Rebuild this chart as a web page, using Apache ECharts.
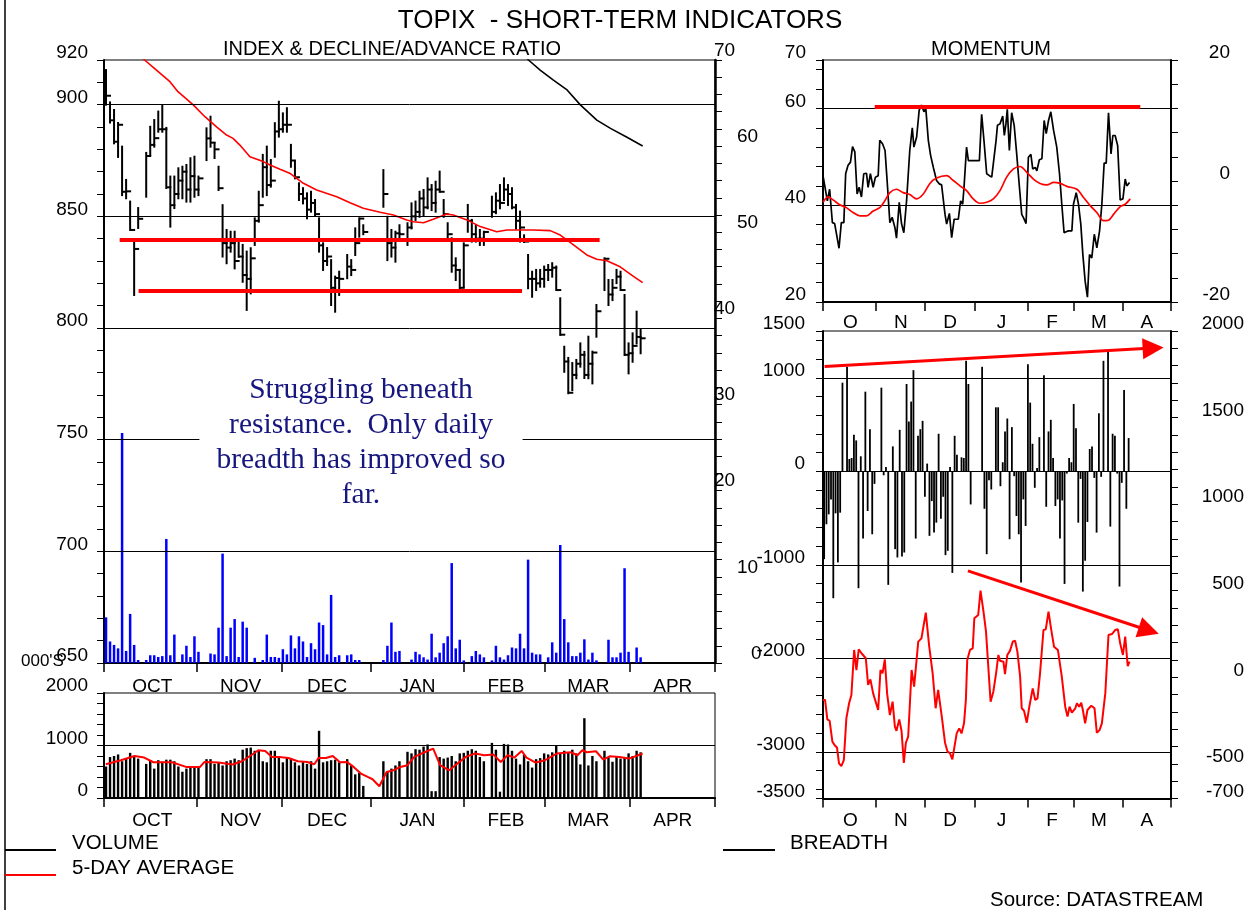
<!DOCTYPE html>
<html><head><meta charset="utf-8">
<script src="https://cdn.jsdelivr.net/npm/echarts@6/dist/echarts.min.js"></script>
<style>html,body{margin:0;padding:0;background:#fff}#c{width:1256px;height:910px}</style>
</head><body><div id="c"></div>
<script>
// x axis = weekday index counted from 1 Oct 2002 (weekends removed)
const monthEdges = [0, 23, 44.3, 66.4, 89.5, 109.6, 130.9, 152];
const monthMids = [12, 34, 55.5, 78, 100, 120.5, 141.5];
const monthNames = ['OCT', 'NOV', 'DEC', 'JAN', 'FEB', 'MAR', 'APR'];
const monthInitials = ['O', 'N', 'D', 'J', 'F', 'M', 'A'];

const tradeDays = [0,1,2,3,4,5,6,7,8, 10,11,12,13,14,15,16,17,18,19,20,21,22,23,
  25,26,27,28,29,30,31,32,33,34,35,36,37,38,39,40,41,42,43,
  44,45,46,47,48,49,50,51,52,53,54,55,56,57,58, 60,61,62,63,64,
  69,70,71,72,73, 75,76,77,78,79,80,81,82,83,84,85,86,87,88,
  89,90,91,92,93,94, 96,97,98,99,100,101,102,103,104,105,106,107,108,
  109,110,111,112,113,114,115,116,117,118,119,120,121,122, 124,125,126,127,128,129,130,131,132,133];

const priceHigh = [915.5,901,897.6,891.8,881.2,866.3,856.6,838.1,853.7,
  878.4,890.1,893.1,896.9,899.8,889.6,867.8,867.8,871.5,872.2,873,876,876.7,867.8,
  889.4,894.6,882.8,872.2,855,843.9,843.1,843.1,838.7,837.2,834.2,835.7,849.1,861,877.5,881.2,875.2,891.7,901.3,
  896.1,898.4,882,874.5,864.8,862.6,860.3,861,857.3,849.1,837.9,835.8,830.4,823,825.2,
  832.7,830.4,844.6,849.1,846,
  870.7,849.8,843.9,843.1,846,
  846.9,855.8,856.6,861,861.8,867,864,865.5,870,857.3,846.9,840.2,831.2,826,
  837.9,855.1,848.4,846.1,843.9,843.1,
  858.8,860.3,864,867,864,862.6,855.1,852.1,841.5,832.7,825.2,826,826,
  827.5,828.2,829,827.5,813.3,791.6,786.6,784.3,785.7,793.1,789.3,796.1,789.4,810.3,
  831.2,821.5,821.5,826,825.2,814.8,793.1,797.6,807.3,799.1];
const priceLow = [900,892,882.7,876.6,859.5,858.1,843.9,814.8,844.8,
  858.8,877.5,881.2,887.9,887.9,862.7,845.4,853.7,858.1,858.1,856.6,856.6,858.8,859.5,
  875.2,881.2,876.1,861.8,832,829,834.2,826.7,831.9,820.7,808.1,815.5,837.2,847.6,858.8,859.5,863.3,876.7,885.7,
  887.9,887.9,872.2,867,857.3,855.8,849.1,852.1,850.6,834.2,826,828.2,810.3,807.3,814.8,
  822.3,823.7,832.7,840.9,842,
  854.3,830.4,832,829.7,839.4,
  837.2,844.6,848.4,849.8,850.6,853.6,852.8,852.1,861,849.8,840.2,825.2,821.5,817,
  818.5,843.1,838.7,838.7,837.2,837.2,
  849.8,851.4,853.6,857.3,855.1,853.6,844.6,838.7,838.5,817.8,814,817,818.5,
  818.5,821.5,823,817,796.9,780.4,770.8,772.2,777.5,782.7,777.6,777.5,775.2,796.1,
  817,810.3,812.5,820.1,817,787.9,779.7,784.9,793.1,788.7];
const priceClose = [904,893,883.4,891,861,861.2,843.9,835.4,848.9,
  877,882,885,889,889,863,855,860,866,870,862,868,862,867,
  884.9,883,880,862.6,838,836,838,830,832,823.7,822,831.2,848,855,872,864,866,888,889,
  891,891,875,867.5,860,858,853,856,851,837,830,832,818,822.4,822,
  827.5,826,838,849,843,
  860,838,836,842.4,842,
  845,850,852,858,854,862,856,862,861,851,842,828,826,818,
  837,848,842,840,840,843,
  852,857,856,862,860,854,848,845,838.7,822,822,820,822,
  826,826,827,817,797,785,771,779,784,788,779,784,789,807.5,
  831,815,818,823,817,788,788.7,792,796,795.4];

const declineAdvance = [5.3,2.5,2.1,1.7,26.7,1.4,5.7,2.1,0.35,
  0.35,0.9,0.9,0.7,0.8,14.4,0.9,3.3,0,1.0,2.0,0.7,3.1,1.3,
  0,1.1,1.0,4.1,12.7,0.8,4.1,5.1,0.7,4.8,4.1,0,0.6,0,0.35,3.3,0.7,0.7,0.6,
  1.6,1.0,3.2,1.7,3.1,2.5,0.7,2.3,1.6,4.7,4.4,1.0,7.9,0.7,0.9,
  0.9,1.0,0.35,0.35,0,
  0.35,2.0,4.7,1.3,1.4,
  0,0.4,1.3,1.0,0.66,0.4,3.4,0.66,1.2,2.3,3.1,11.6,1.7,2.7,
  0.3,0,0.8,1.4,1.0,0.66,
  0.3,2.0,0.66,0.4,0.9,1.8,1.7,3.4,1.7,12.0,1.2,1.0,1.0,
  0,0.66,2.4,1.2,13.7,5.1,2.4,0.8,0.8,1.2,2.75,0.4,1.2,0.3,
  0,2.7,0.66,0.66,1.2,11.0,1.3,0,1.8,0.66];

const volume = [600,780,800,830,700,760,860,800,750,
  650,720,560,720,690,730,730,700,600,500,560,600,600,580,
  740,740,650,680,620,700,720,750,720,920,950,960,900,900,700,680,900,900,800,
  680,780,760,680,620,700,650,700,560,1280,680,700,720,730,680,
  740,620,450,480,230,
  700,500,560,620,700,
  880,850,930,920,980,1020,130,130,780,750,770,800,700,850,
  860,900,930,900,780,700,
  1050,920,120,1030,1020,900,750,640,820,700,580,740,760,
  850,830,870,990,850,900,870,920,850,640,1520,620,800,700,
  900,780,690,780,750,760,850,800,900,870];

const breadth = [-940,-567,-461,-301,-1358,-450,-975,-443,947,
  1117,131,142,390,330,-1251,160,-720,851,-425,450,-674,-135,0,
  894,-43,46,-1215,0,266,-833,-922,443,-911,-869,933,532,745,1081,-720,379,450,539,
  -273,82,-691,-319,-656,-550,401,-507,-273,-897,-851,46,-1087,379,177,
  149,142,1181,933,-355,
  1117,-401,-887,-96,-195,
  684,684,-160,96,426,564,-727,472,-53,-479,-674,-1191,-301,-585,
  1145,734,294,-177,35,365,
  1028,-380,426,550,142,-372,-301,-720,-312,-1205,-25,142,96,
  720,461,-550,-82,-1287,-957,-543,238,266,-71,-656,620,-60,1181,
  1277,-592,401,379,-25,-1233,-124,869,-401,355];

// smooth lines: [weekday position, value]
const priceAvg = [[7.5,924],[10.1,920],[13.05,915.5],[16.4,910.3],[18.4,905.8],[22.2,899.9],[25.1,894.6],[28.0,890.1],[30.5,886.4],[32.1,884.9],[33.8,881.9],[36.3,876.7],[39.6,874.5],[41.3,873.0],[43.8,871.1],[46.2,869.3],[49.6,864.8],[52.9,861.8],[57.9,858.8],[61.2,856.1],[64.5,853.6],[68.7,851.8],[72.0,850.6],[75.3,848.4],[77.0,847.6],[79.5,847.1],[81.9,848.7],[85.3,851.0],[86.9,850.6],[90.3,848.4],[93.6,845.4],[97.7,843.1],[100.2,843.9],[106.8,843.9],[111.0,843.6],[113.5,841.6],[116.8,837.2],[120.1,832.7],[122.6,830.8],[125.1,830.1],[128.4,827.4],[131.8,823.0],[134.0,820.3]];
const priceLongAvg = [[102,927],[105.6,920],[108.5,915.5],[111.8,911.0],[115.2,906.6],[118.5,899.9],[122.6,893.1],[126.0,889.4],[130.1,885.4],[134.0,881.5]];
const volumeAvg = [[0.45,643],[4.2,719],[7.6,801],[10,770],[12.3,681],[16.9,681],[20.4,592],[23.9,592],[25,687],[28.5,675],[32,637],[34.3,700],[36.6,815],[38.4,910],[40.1,897],[41.8,783],[43.6,783],[45.9,763],[48.2,700],[50.6,687],[52.3,643],[53.4,763],[55.2,763],[56.9,801],[58.7,681],[60.4,687],[62.1,592],[63.9,465],[65.6,401],[66.8,357],[68.5,223],[70.3,496],[72,528],[73.7,592],[75.5,624],[77.2,783],[79,847],[81.9,942],[83.6,624],[85.9,528],[87.1,605],[90,783],[92.3,847],[94.6,815],[96.9,827],[98.7,687],[100.4,815],[102.1,770],[103.9,897],[105.1,770],[107.4,675],[109.7,719],[112.6,847],[116.1,872],[117.8,815],[119,910],[120.1,872],[122.4,891],[124.2,732],[125.9,796],[128.2,783],[130.6,751],[132.9,815],[134,847]];
const momentum = [[0.0,46.1],[1.9,40.9],[2.9,43.3],[4.1,36.4],[5.1,36.2],[7.0,31.1],[8.0,36.4],[9.1,36.4],[9.9,46.5],[10.9,48.2],[12.0,48.9],[12.9,52.1],[13.9,51.0],[14.9,42.3],[15.8,43.7],[16.8,41.7],[17.8,46.5],[19.0,46.6],[19.7,43.7],[20.7,46.5],[21.9,43.7],[22.9,45.8],[24.1,46.1],[24.8,53.4],[26.0,52.7],[27.1,51.3],[28.0,45.1],[29.2,36.4],[30.2,37.5],[31.4,35.4],[32.1,33.2],[33.3,40.6],[34.3,36.2],[35.3,34.3],[36.5,40.9],[37.9,51.3],[39.0,56.0],[39.7,52.0],[40.9,54.1],[42.0,59.6],[43.0,60.7],[44.1,59.3],[44.9,60.0],[46.0,53.4],[47.0,50.3],[48.2,47.8],[49.6,45.1],[50.8,44.4],[51.8,44.2],[53.3,38.1],[54.0,36.1],[55.2,38.3],[56.2,33.3],[57.3,37.1],[59.1,37.1],[60.1,40.9],[61.0,40.2],[61.6,43.7],[62.7,52.0],[63.5,49.2],[67.1,49.2],[68.3,49.2],[69.3,58.8],[70.3,53.4],[71.5,46.5],[72.7,46.1],[73.7,45.8],[75.6,53.4],[76.2,56.5],[77.3,56.8],[78.5,58.4],[79.2,54.4],[79.9,56.8],[80.5,59.8],[81.4,51.3],[82.4,59.1],[83.5,56.5],[84.6,50.6],[85.8,43.7],[86.8,38.1],[87.5,37.5],[88.7,36.2],[89.7,49.9],[90.8,50.5],[91.6,47.5],[92.7,47.8],[93.4,47.1],[94.5,49.4],[95.6,49.6],[96.6,57.5],[97.5,54.8],[98.5,57.5],[99.5,59.3],[100.7,55.5],[102.1,52.0],[103.3,46.5],[104.3,40.2],[105.3,34.3],[106.2,34.5],[107.2,34.7],[108.7,34.7],[109.4,40.2],[110.6,42.6],[111.6,40.2],[112.6,36.1],[113.5,29.8],[114.5,24.3],[115.5,21.0],[116.4,29.8],[117.4,29.1],[118.5,34.0],[119.6,31.2],[120.8,34.7],[121.8,40.2],[122.8,48.7],[123.7,48.7],[124.7,59.1],[125.8,50.6],[126.6,54.4],[127.6,54.4],[128.7,52.3],[129.8,41.1],[131.0,41.3],[132.0,45.4],[132.7,44.0],[133.9,44.7]];
const momentumAvg = [[0.0,40.6],[2.2,41.7],[4.4,41.1],[7.3,40.1],[10.2,39.5],[13.1,38.5],[16.1,37.8],[19.0,37.8],[21.9,38.8],[24.8,39.5],[27.0,40.9],[29.2,42.6],[32.1,43.3],[35.0,42.6],[37.9,42.2],[40.9,41.3],[43.8,42.3],[46.7,44.5],[49.6,45.6],[54.0,46.1],[56.9,45.1],[59.8,44.0],[62.7,43.0],[65.6,41.3],[68.5,40.4],[71.5,40.6],[74.4,41.3],[77.3,43.0],[80.2,45.8],[83.2,47.5],[86.1,48.0],[89.0,46.8],[91.9,45.4],[94.8,44.5],[97.8,44.2],[100.7,44.7],[103.6,44.5],[106.5,43.9],[110.9,43.3],[113.8,41.6],[116.7,39.9],[119.6,38.5],[122.5,36.8],[124.7,36.9],[126.9,38.1],[129.8,39.7],[132.0,40.2],[134.2,41.3]];
const breadthLine = [[0.0,-131],[0.9,-131],[1.9,-243],[2.9,-251],[4.1,-372],[5.1,-392],[6.1,-405],[7.0,-497],[8.0,-513],[9.1,-478],[10.2,-237],[11.4,-150],[12.4,-102],[13.6,158],[14.6,42],[15.6,162],[16.8,139],[18.7,110],[19.7,-44],[20.7,-12],[21.9,-93],[24.1,-189],[25.1,42],[26.0,23],[27.0,104],[28.0,-93],[29.2,-218],[30.4,-141],[31.4,-285],[32.1,-309],[33.3,-243],[34.3,-309],[35.3,-494],[36.2,-378],[37.2,-343],[38.7,42],[39.8,-54],[41.6,206],[43.0,225],[44.9,373],[46.4,177],[47.9,23],[49.2,-179],[50.3,-73],[51.8,-218],[53.3,-378],[54.4,-430],[55.4,-436],[56.5,-474],[58.4,-324],[59.5,-295],[60.5,-324],[61.6,-266],[62.4,-131],[63.0,100],[64.2,158],[65.4,167],[66.1,341],[67.8,360],[68.8,501],[70.0,389],[71.2,264],[72.2,61],[73.2,-141],[74.4,-83],[75.6,23],[76.6,129],[77.3,96],[78.8,90],[79.5,19],[80.5,129],[81.7,154],[82.9,206],[83.9,212],[84.9,148],[86.1,4],[86.8,-179],[87.8,-193],[89.0,-262],[90.0,-179],[90.7,-170],[91.6,-64],[92.7,-131],[93.7,-122],[94.8,23],[96.3,273],[97.3,277],[98.5,379],[99.6,283],[100.9,177],[102.6,158],[104.3,4],[105.8,-170],[106.8,-227],[107.7,-170],[108.7,-204],[110.2,-179],[110.9,-150],[111.9,-170],[112.8,-147],[113.5,-189],[114.5,-266],[115.5,-189],[117.2,-164],[118.6,-179],[119.6,-320],[120.8,-305],[121.8,-266],[123.3,-93],[124.7,244],[126.2,250],[127.6,273],[128.8,277],[129.8,196],[131.0,129],[132.0,235],[133.1,65],[133.9,90]];

// annotation lines (data space)
const resistanceIndex = [[3.9, 123.3, 839.7], [8.6, 104.0, 816.6]];
const resistanceMomentum = [22.6, 138.6, 60.25];
const breadthArrows = [[[0.7, 1120], [144.2, 1317]], [[63.3, -1066], [142.3, -1703]]];

const FONT = '"Liberation Sans", Arial, sans-serif';
const F = (s) => s + 'px "Liberation Sans", Arial, sans-serif';
function range(a, b, s) { const r = []; for (let v = a; v <= b + 1e-9; v += s) r.push(+v.toFixed(4)); return r; }

function xAx(gi, names, margin) {
  return {
    type: 'value', gridIndex: gi, min: 0, max: 152,
    axisLine: { show: true, onZero: false, lineStyle: { color: '#000', width: 2 } },
    axisTick: { show: true, length: 9, customValues: monthEdges, lineStyle: { color: '#000', width: 1.5 } },
    axisLabel: { show: !!names, customValues: monthMids, margin: margin, fontSize: 19, fontFamily: FONT, color: '#000',
      formatter: (v) => names ? names[monthMids.indexOf(v)] : '' },
    splitLine: { show: false }
  };
}
function yAx(gi, pos, min, max, ticks, labels, margin, align, lw, extra) {
  const ax = {
    type: 'value', gridIndex: gi, position: pos, min: min, max: max,
    axisLine: { show: true, onZero: false, lineStyle: { color: '#000', width: lw || 2 } },
    axisTick: { show: true, length: 7, customValues: ticks, lineStyle: { color: '#000', width: 1 } },
    axisLabel: { show: true, customValues: labels, margin: margin, align: align, verticalAlign: 'bottom', lineHeight: 14,
      fontSize: 19, fontFamily: FONT, color: '#000', formatter: (v) => String(v) },
    splitLine: { show: false }
  };
  if (extra) Object.assign(ax.axisLabel, extra);
  return ax;
}
const gridLine = (vals) => ({
  silent: true, symbol: ['none', 'none'], animation: false, label: { show: false },
  lineStyle: { color: '#000', width: 1, type: 'solid' },
  data: vals.map(v => ({ yAxis: v }))
});
const rs = (pad) => ({ fontSize: 19, fontFamily: FONT, color: '#000', lineHeight: 14, verticalAlign: 'bottom', padding: [0, 0, 0, pad] });

const chart = echarts.init(document.getElementById('c'), null, { renderer: 'canvas' });
const ohlc = tradeDays.map((d, i) => [d + 0.5, priceHigh[i], priceLow[i], priceClose[i]]);

chart.setOption({
  animation: false,
  backgroundColor: '#fff',
  grid: [
    { left: 104, top: 60, width: 611, height: 603, show: true, borderColor: '#000', borderWidth: 1 },
    { left: 104, top: 693, width: 611, height: 105, show: true, borderColor: '#000', borderWidth: 1 },
    { left: 823, top: 60, width: 348, height: 242, show: true, borderColor: '#000', borderWidth: 1 },
    { left: 823, top: 331, width: 348, height: 467.5, show: true, borderColor: '#000', borderWidth: 1 }
  ],
  xAxis: [ xAx(0, monthNames, 14), xAx(1, monthNames, 13), xAx(2, monthInitials, 11), xAx(3, monthInitials, 13) ],
  yAxis: [
    yAx(0, 'left', 650, 920, range(650, 920, 10), [650, 700, 750, 800, 850, 900, 920], 16, 'right', 2),
    yAx(0, 'right', 0, 70, range(0, 70, 2), range(0, 70, 10), -1, 'left', 2.5, {
      formatter: (v) => (v === 0 ? '{c|0}' : (v === 60 || v === 50 || v === 10) ? '{b|' + v + '}' : '{a|' + v + '}'),
      rich: { a: rs(0), b: rs(23), c: rs(37) } }),
    yAx(1, 'left', 0, 2000, range(0, 2000, 200), [0, 1000, 2000], 16, 'right', 2),
    yAx(2, 'left', 20, 70, range(20, 68, 4).concat([70]), [20, 40, 60, 70], 17, 'right', 2),
    yAx(2, 'right', -20, 20, range(-20, 20, 4), [-20, 0, 20], 59, 'right', 2),
    yAx(3, 'left', -3500, 1500, [-3500].concat(range(-3400, 1400, 200), [1500]), [-3500, -3000, -2000, -1000, 0, 1000, 1500], 18, 'right', 2),
    yAx(3, 'right', -700, 2000, range(-700, 2000, 100), [-700, -500, 0, 500, 1000, 1500, 2000], 73, 'right', 2)
  ],
  series: [
    { type: 'custom', name: 'index', xAxisIndex: 0, yAxisIndex: 0, clip: true, z: 3,
      renderItem: (params, api) => {
        const x = api.value(0);
        const pH = api.coord([x, api.value(1)]), pL = api.coord([x, api.value(2)]), pC = api.coord([x, api.value(3)]);
        return { type: 'group', children: [
          { type: 'line', shape: { x1: pH[0], y1: pH[1] - 1, x2: pL[0], y2: pL[1] + 1 }, style: { stroke: '#000', lineWidth: 2 } },
          { type: 'line', shape: { x1: pC[0], y1: pC[1], x2: pC[0] + 5, y2: pC[1] }, style: { stroke: '#000', lineWidth: 2 } }
        ] };
      },
      encode: { x: 0, y: [1, 2, 3] },
      data: ohlc,
      markLine: gridLine([700, 750, 800, 850, 900])
    },
    { type: 'line', xAxisIndex: 0, yAxisIndex: 0, data: priceAvg, symbol: 'none', clip: true, z: 4,
      lineStyle: { color: '#ff0000', width: 1.6 },
      markLine: { silent: true, symbol: ['none', 'none'], label: { show: false },
        lineStyle: { color: '#ff0000', width: 4, type: 'solid' },
        data: resistanceIndex.map(r => [{ coord: [r[0], r[2]] }, { coord: [r[1], r[2]] }]) } },
    { type: 'line', xAxisIndex: 0, yAxisIndex: 0, data: priceLongAvg, symbol: 'none', clip: true, z: 4,
      lineStyle: { color: '#000', width: 1.6 } },
    { type: 'bar', xAxisIndex: 0, yAxisIndex: 1, barWidth: 2.5, z: 2,
      itemStyle: { color: '#0000ff' },
      data: tradeDays.map((d, i) => [d + 0.5, declineAdvance[i]]) },
    { type: 'bar', xAxisIndex: 1, yAxisIndex: 2, barWidth: 2.4, z: 2,
      itemStyle: { color: '#000' },
      data: tradeDays.map((d, i) => [d + 0.5, volume[i]]),
      markLine: gridLine([1000]) },
    { type: 'line', xAxisIndex: 1, yAxisIndex: 2, data: volumeAvg, symbol: 'none', z: 4,
      lineStyle: { color: '#ff0000', width: 2 } },
    { type: 'line', xAxisIndex: 2, yAxisIndex: 3, data: momentum, symbol: 'none', z: 4,
      lineStyle: { color: '#000', width: 1.7 },
      markLine: gridLine([40, 60]) },
    { type: 'line', xAxisIndex: 2, yAxisIndex: 3, data: momentumAvg, symbol: 'none', z: 5, smooth: 0.3,
      lineStyle: { color: '#ff0000', width: 1.7 },
      markLine: { silent: true, symbol: ['none', 'none'], label: { show: false },
        lineStyle: { color: '#ff0000', width: 4, type: 'solid' },
        data: [[{ coord: [resistanceMomentum[0], resistanceMomentum[2]] }, { coord: [resistanceMomentum[1], resistanceMomentum[2]] }]] } },
    { type: 'bar', xAxisIndex: 3, yAxisIndex: 5, barWidth: 1.8, z: 2,
      itemStyle: { color: '#000' },
      data: tradeDays.map((d, i) => [d + 0.5, breadth[i]]),
      markLine: gridLine([1000, 0, -1000, -2000, -3000]) },
    { type: 'line', xAxisIndex: 3, yAxisIndex: 5, data: [], symbol: 'none', z: 6,
      markLine: { silent: true, symbol: ['none', 'triangle'], symbolSize: 21, label: { show: false },
        lineStyle: { color: '#ff0000', width: 3, type: 'solid' }, itemStyle: { color: '#ff0000' },
        data: breadthArrows.map(a => [{ coord: a[0] }, { coord: a[1] }]) } },
    { type: 'line', xAxisIndex: 3, yAxisIndex: 6, data: breadthLine, symbol: 'none', z: 5,
      lineStyle: { color: '#ff0000', width: 2 } }
  ],
  graphic: [
    { type: 'line', z: 100, shape: { x1: 5, y1: 0, x2: 5, y2: 910 }, style: { stroke: '#000', lineWidth: 1.5 } },
    { type: 'text', x: 620, y: 21, z: 100, style: { text: 'TOPIX  - SHORT-TERM INDICATORS', font: F(26), fill: '#000', align: 'center', verticalAlign: 'middle' } },
    { type: 'text', x: 392, y: 49, z: 100, style: { text: 'INDEX & DECLINE/ADVANCE RATIO', font: F(20), fill: '#000', align: 'center', verticalAlign: 'middle' } },
    { type: 'text', x: 991, y: 49, z: 100, style: { text: 'MOMENTUM', font: F(20), fill: '#000', align: 'center', verticalAlign: 'middle' } },
    { type: 'text', x: 21, y: 661, z: 100, style: { text: "000'S", font: F(17), fill: '#000', align: 'left', verticalAlign: 'middle' } },
    { type: 'text', x: 361, y: 367, z: 100, style: {
        text: 'Struggling beneath\nresistance.  Only daily\nbreadth has improved so\nfar.',
        font: '29.5px "Liberation Serif", "Times New Roman", serif', fill: '#16167e', lineHeight: 35,
        align: 'center', verticalAlign: 'top', backgroundColor: '#fff', padding: [6, 17, 6, 17] } },
    { type: 'line', z: 100, shape: { x1: 5, y1: 850, x2: 56, y2: 850 }, style: { stroke: '#000', lineWidth: 2 } },
    { type: 'text', x: 72, y: 843, z: 100, style: { text: 'VOLUME', font: F(20.5), fill: '#000', align: 'left', verticalAlign: 'middle' } },
    { type: 'line', z: 100, shape: { x1: 5, y1: 875, x2: 56, y2: 875 }, style: { stroke: '#ff0000', lineWidth: 2 } },
    { type: 'text', x: 72, y: 868, z: 100, style: { text: '5-DAY AVERAGE', font: F(20.5), fill: '#000', align: 'left', verticalAlign: 'middle' } },
    { type: 'line', z: 100, shape: { x1: 723, y1: 850, x2: 775, y2: 850 }, style: { stroke: '#000', lineWidth: 2 } },
    { type: 'text', x: 790, y: 843, z: 100, style: { text: 'BREADTH', font: F(20.5), fill: '#000', align: 'left', verticalAlign: 'middle' } },
    { type: 'text', x: 990, y: 900, z: 100, style: { text: 'Source: DATASTREAM', font: F(20.5), fill: '#000', align: 'left', verticalAlign: 'middle' } }
  ]
});
</script>
</body></html>
